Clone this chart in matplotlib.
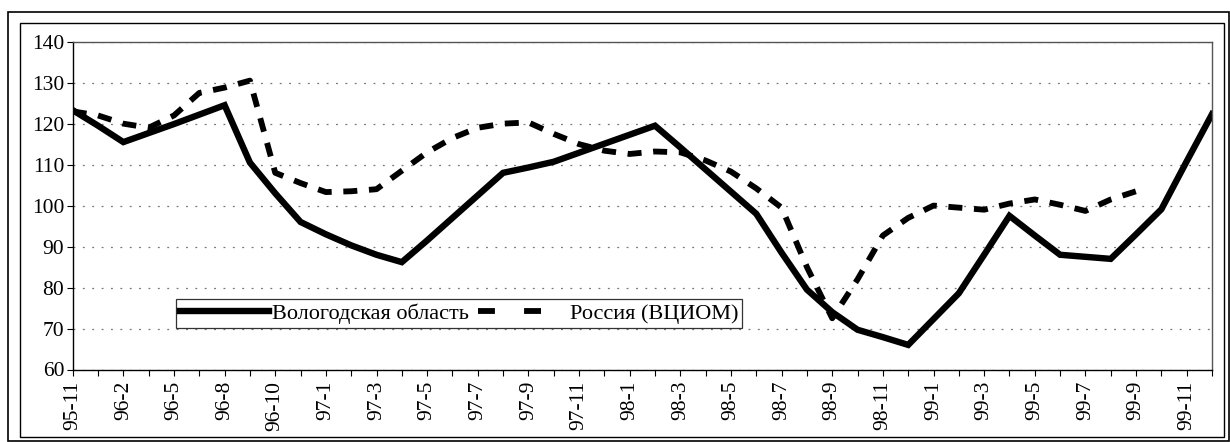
import numpy as np
import matplotlib
matplotlib.use('Agg')
import matplotlib.pyplot as plt
from matplotlib.patches import Rectangle
from matplotlib.lines import Line2D

plt.rcParams['font.family'] = ['Liberation Serif', 'DejaVu Serif']

# categories (only every second one is labelled on the axis)
months = ['95-11', '96-1', '96-2', '96-4', '96-5', '96-7', '96-8', '96-9',
          '96-10', '96-12', '97-1', '97-2', '97-3', '97-4', '97-5', '97-6',
          '97-7', '97-8', '97-9', '97-10', '97-11', '97-12', '98-1', '98-2',
          '98-3', '98-4', '98-5', '98-6', '98-7', '98-8', '98-9', '98-10',
          '98-11', '98-12', '99-1', '99-2', '99-3', '99-4', '99-5', '99-6',
          '99-7', '99-8', '99-9', '99-10', '99-11', '99-12']

vologda = [123.3, 119.5, 115.5, 117.7, 119.9, 122.2, 124.5, 110.5,
           103.0, 96.0, 93.0, 90.3, 88.0, 86.2, 91.5, 97.0,
           102.5, 108.0, 109.3, 110.7, 112.9, 115.1, 117.3, 119.5,
           114.2, 108.8, 103.4, 98.0, 88.5, 79.5, 74.0, 69.7,
           67.9, 66.0, 72.3, 78.6, 88.0, 97.5, 92.7, 88.0,
           87.5, 87.0, 93.0, 99.1, 110.8, 122.3]

russia = [123.0, 122.0, 120.0, 119.0, 122.0, 127.5, 128.8, 130.5,
          108.0, 105.5, 103.3, 103.5, 104.0, 108.5, 113.0, 116.5,
          119.0, 120.0, 120.3, 117.5, 115.0, 113.4, 112.6, 113.2,
          113.0, 111.0, 108.3, 104.2, 99.5, 85.0, 72.5, 82.0,
          92.7, 97.0, 100.0, 99.5, 99.0, 100.5, 101.5, 100.2,
          98.7, 101.5, 103.5, None, None, None]

tick_labels = [m if i % 2 == 0 else '' for i, m in enumerate(months)]

W, H = 1230, 442
fig = plt.figure(figsize=(W / 100, H / 100), dpi=100)
ax = fig.add_axes([72.7 / W, 1 - 369.5 / H, (1212 - 72.7) / W, (369.5 - 41.7) / H])

x = np.arange(len(months))
ax.plot(x, vologda, color='black', lw=4.6, solid_joinstyle='miter')
ax.plot(x, np.array(russia, dtype=float), color='black', lw=4.2,
        linestyle=(0, (2.4, 2.0)), dash_capstyle='butt')

ax.set_xlim(0, len(months) - 1)
ax.set_ylim(60, 140)
ax.set_yticks(np.arange(60, 141, 10))
ax.set_xticks(x)
ax.set_xticklabels(tick_labels, rotation=90, fontsize=15.5)
ax.tick_params(axis='y', labelsize=15.5, length=4, width=0.8, pad=2)
ax.tick_params(axis='x', length=4, width=0.8, pad=4)

ax.yaxis.grid(True, linestyle=(0, (1.5, 6)), color='#777777', lw=0.9)
ax.set_axisbelow(True)
for s in ['top', 'right']:
    ax.spines[s].set_linestyle((0, (1, 1)))
    ax.spines[s].set_color('#555555')
    ax.spines[s].set_linewidth(1.0)
for s in ['left', 'bottom']:
    ax.spines[s].set_linewidth(1.0)

# legend samples as drawn by the original (two short dashes for Russia)
h1 = Line2D([], [], color='black', lw=4.6)
h2 = Line2D([], [], color='black', lw=4.2, linestyle=(0.0, (2.9, 5.0)),
            dash_capstyle='butt')
leg = fig.legend([h1, h2], ['Вологодская область', 'Россия (ВЦИОМ)'],
                 loc='lower left', ncol=2, fontsize=16, frameon=True,
                 bbox_to_anchor=(176 / W, 1 - 328 / H),
                 handlelength=4.0, handletextpad=0.1, columnspacing=0.45,
                 borderpad=0.2, borderaxespad=0, fancybox=False)
leg.get_frame().set_edgecolor('black')
leg.get_frame().set_linewidth(0.9)

# double frame around the chart
fig.add_artist(Rectangle((8 / W, 1 - 441 / H), 1221 / W, 429 / H,
                         transform=fig.transFigure, fill=False,
                         edgecolor='black', lw=1.2))
fig.add_artist(Rectangle((20 / W, 1 - 437 / H), 1204 / W, 414 / H,
                         transform=fig.transFigure, fill=False,
                         edgecolor='black', lw=1.0))

fig.savefig('out.png', dpi=100)
